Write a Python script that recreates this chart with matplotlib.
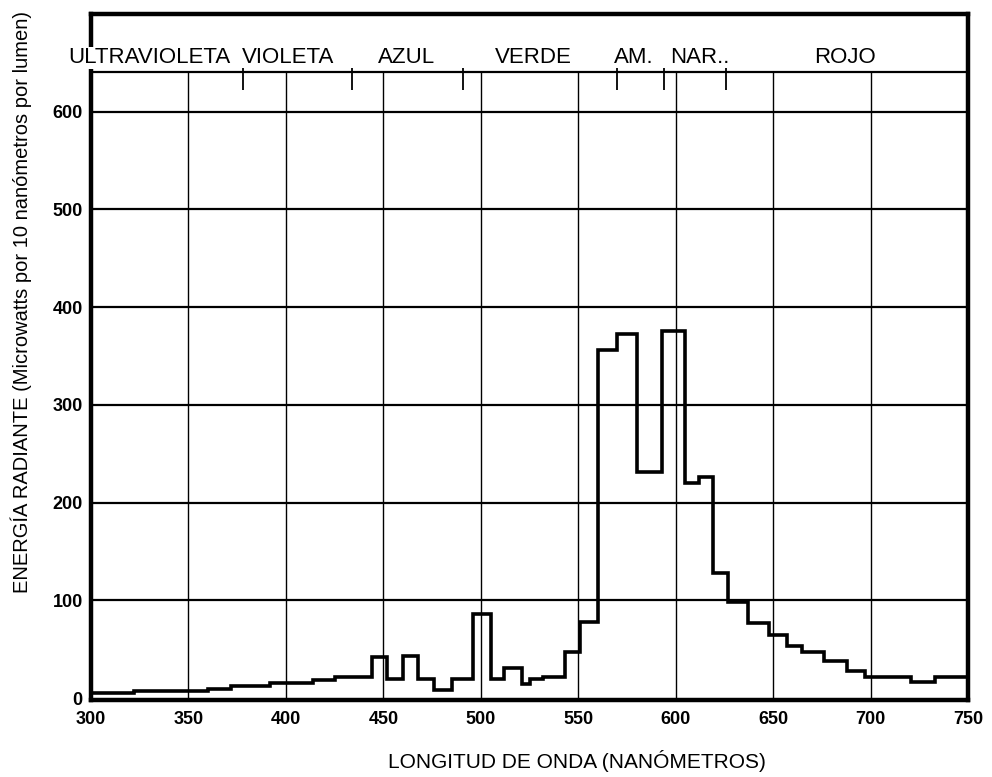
import matplotlib
matplotlib.use("Agg")
import matplotlib.pyplot as plt
import numpy as np

# Spectrum step data (bin edges in nm, energy per bin)
edges = [300, 322, 360, 372, 392, 414, 425, 444, 452, 460, 468, 476, 485, 496,
         505, 512, 521, 525, 532, 543, 551, 560, 570, 580, 593, 605, 612, 619,
         627, 637, 648, 657, 665, 676, 688, 697, 721, 733, 750]
values = [5, 7, 9, 12, 15, 18, 22, 42, 20, 43, 20, 8, 20,
          86, 20, 31, 14, 19, 22, 47, 78, 356, 373, 231, 376, 220, 226,
          128, 98, 77, 65, 53, 47, 38, 28, 22, 16, 22]

xticks = [300, 350, 400, 450, 500, 550, 600, 650, 700, 750]
yticks = [0, 100, 200, 300, 400, 500, 600]

band_names = ["ULTRAVIOLETA", "VIOLETA", "AZUL", "VERDE", "AM.", "NAR..", "ROJO"]
band_label_x = [330, 401, 462, 527, 578.5, 612.5, 687]
band_dividers = [378, 434, 491, 570, 594, 626]
band_line = 641

regular = ["Liberation Sans", "DejaVu Sans"]

fig = plt.figure(figsize=(9.92, 7.77), dpi=100)
ax = fig.add_axes([91/992, 1-700/777, (968-91)/992, (700-14)/777])
ax.set_xlim(300, 750)
ax.set_ylim(-2, 700)

# grid lines
for y in yticks[1:]:
    ax.axhline(y, color="black", lw=1.6, zorder=1)
ax.axhline(band_line, color="black", lw=1.6, zorder=1)
ax.vlines(xticks[1:-1], 0, band_line, color="black", lw=1.0, zorder=1)

# band dividers and labels
ax.vlines(band_dividers, band_line - 19, band_line + 4, color="black", lw=1.3, zorder=2)
for name, xc in zip(band_names, band_label_x):
    ax.text(xc, 655, name, ha="center", va="center", fontsize=16,
            family=regular, zorder=6,
            bbox=dict(facecolor="white", edgecolor="none", pad=0.3) if name == "ULTRAVIOLETA" else None,
            clip_on=False)

# step spectrum
xs = np.repeat(edges, 2)[1:-1]
ys = np.repeat(values, 2)
ax.plot(xs, ys, color="black", lw=2.6, solid_joinstyle="miter", zorder=3)

for s in ax.spines.values():
    s.set_linewidth(3.2)
    s.set_zorder(4)

ax.set_xticks(xticks)
ax.set_yticks(yticks)
ax.tick_params(length=0)
ax.tick_params(axis="x", pad=8)
ax.tick_params(axis="y", pad=6)
for lab in ax.get_xticklabels() + ax.get_yticklabels():
    lab.set_family(regular)
    lab.set_fontsize(13)
    lab.set_fontweight("bold")

fig.text(577/992, 1-761/777, "LONGITUD DE ONDA (NANÓMETROS)", ha="center", va="center",
         fontsize=15, family=regular)
fig.text(21/992, 1-302/777, "ENERGÍA RADIANTE (Microwatts por 10 nanómetros por lumen)",
         ha="center", va="center", rotation=90, fontsize=14.5, family=regular)

fig.savefig("out.png", dpi=100)
